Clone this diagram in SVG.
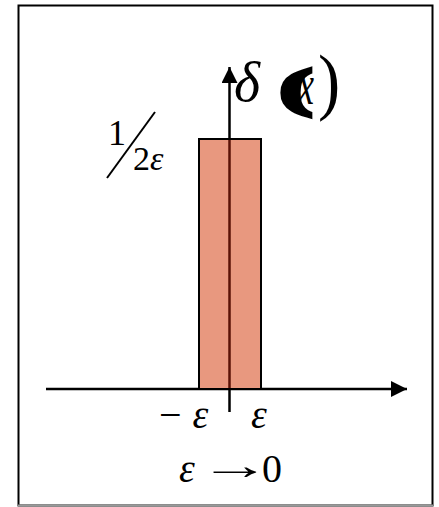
<svg xmlns="http://www.w3.org/2000/svg" width="439" height="507" viewBox="0 0 439 507">
<style>
.ax{stroke:#000;stroke-width:2.5;fill:none}
.m{font-family:"Liberation Serif","Times New Roman",serif;fill:#000}
.i{font-style:italic}
</style>
<defs>
<marker id="ah" markerUnits="userSpaceOnUse" markerWidth="16" markerHeight="16" refX="16" refY="8" orient="auto" viewBox="0 0 16 16">
<path d="M0,0 L16,8 L0,16 Z" fill="#000"/>
</marker>
</defs>
<rect x="18.5" y="5.5" width="414" height="500" fill="#fff" stroke="#000" stroke-width="2"/>
<line x1="18" y1="505.5" x2="433" y2="505.5" stroke="#999" stroke-width="2"/>
<g id="connectors">
<line class="ax" x1="46" y1="389" x2="407" y2="389" marker-end="url(#ah)"/>
<line class="ax" x1="229.5" y1="412" x2="229.5" y2="67" marker-end="url(#ah)"/>
</g>
<g id="pulse">
<rect x="199" y="139" width="62" height="250" fill="#E8987F" stroke="#000" stroke-width="2"/>
<line x1="229.5" y1="140" x2="229.5" y2="388" stroke="#5a1206" stroke-width="2.5"/>
</g>
<g id="delta-label">
<text class="m i" x="234" y="101" font-size="56">δ</text>
<text class="m i" x="0" y="0" font-size="40" transform="translate(298 104) scale(0.9 1.4)">x</text>
<text class="m" x="0" y="0" font-size="50" font-weight="bold" stroke="#000" stroke-width="4" transform="translate(280 105) scale(1.9 1)">(</text>
<text class="m" x="0" y="0" font-size="74" transform="translate(318 106) scale(0.9 1)">)</text>
</g>
<g id="height-label">
<text class="m" x="108" y="145" font-size="36">1</text>
<line x1="107" y1="178" x2="155" y2="112" stroke="#000" stroke-width="2"/>
<text class="m" x="133" y="170" font-size="34">2<tspan class="i">ε</tspan></text>
</g>
<g id="tick-labels">
<text class="m" x="159" y="428" font-size="40">−<tspan class="i" dx="11">ε</tspan></text>
<text class="m i" x="251" y="428" font-size="40">ε</text>
</g>
<g id="limit-label">
<text class="m i" x="179" y="482" font-size="40">ε</text>
<text class="m" x="0" y="0" font-size="40" transform="translate(199 479) scale(1.8 1)">→</text>
<text class="m" x="262" y="482" font-size="40">0</text>
</g>
</svg>
